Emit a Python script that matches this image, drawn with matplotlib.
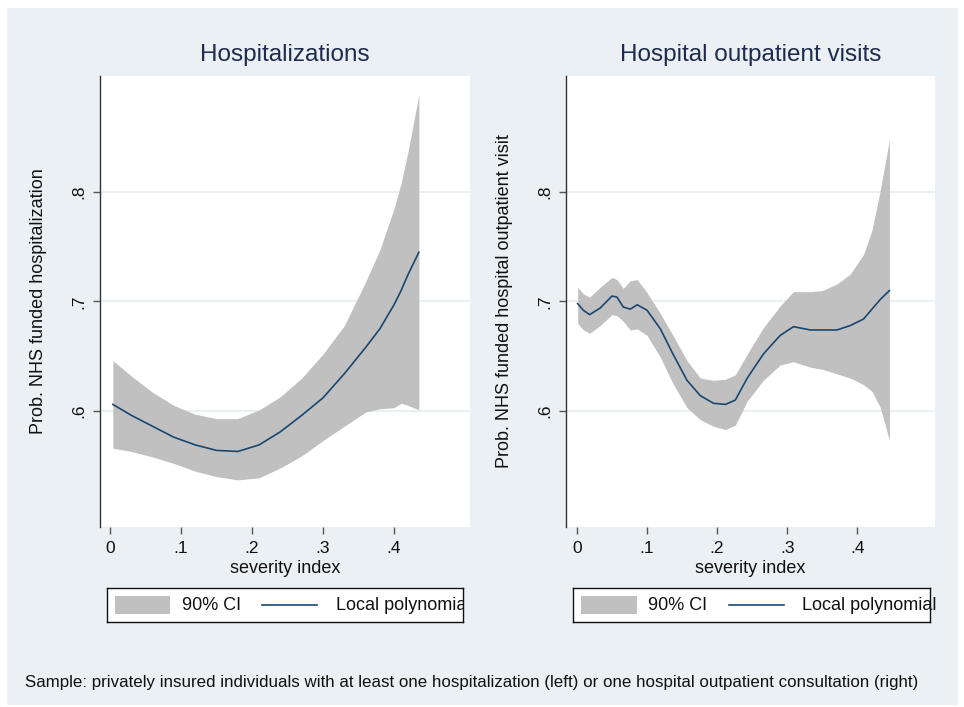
import matplotlib
matplotlib.use('Agg')
import matplotlib.pyplot as plt
from matplotlib.patches import Rectangle
from matplotlib.lines import Line2D

plt.rcParams['font.family'] = ['Liberation Sans', 'DejaVu Sans']

# Left panel: hospitalizations (local polynomial + 90% CI)
hosp_x = [0.004, 0.03, 0.06, 0.09, 0.12, 0.15, 0.18, 0.21, 0.24, 0.27, 0.30,
          0.33, 0.36, 0.38, 0.40, 0.41, 0.42, 0.435]
hosp_fit = [0.606, 0.596, 0.586, 0.576, 0.569, 0.564, 0.563, 0.569, 0.581, 0.596,
            0.612, 0.634, 0.658, 0.675, 0.697, 0.710, 0.725, 0.745]
hosp_upper = [0.646, 0.632, 0.617, 0.605, 0.597, 0.593, 0.593, 0.601, 0.613, 0.630,
              0.652, 0.678, 0.718, 0.747, 0.785, 0.808, 0.838, 0.889]
hosp_lower = [0.566, 0.563, 0.558, 0.552, 0.545, 0.540, 0.537, 0.539, 0.548, 0.559,
              0.573, 0.586, 0.599, 0.602, 0.603, 0.607, 0.605, 0.601]

# Right panel: hospital outpatient visits
outp_x = [0.001, 0.009, 0.018, 0.033, 0.050, 0.057, 0.066, 0.076, 0.086, 0.100,
          0.119, 0.137, 0.157, 0.176, 0.195, 0.212, 0.226, 0.243, 0.266, 0.290,
          0.309, 0.333, 0.350, 0.371, 0.390, 0.409, 0.421, 0.433, 0.446]
outp_fit = [0.698, 0.692, 0.688, 0.694, 0.705, 0.704, 0.695, 0.693, 0.697, 0.692,
            0.675, 0.652, 0.628, 0.614, 0.607, 0.606, 0.610, 0.630, 0.652, 0.669,
            0.677, 0.674, 0.674, 0.674, 0.678, 0.684, 0.693, 0.702, 0.710]
outp_upper = [0.713, 0.707, 0.704, 0.713, 0.722, 0.720, 0.712, 0.719, 0.720, 0.708,
              0.689, 0.669, 0.646, 0.630, 0.628, 0.629, 0.633, 0.652, 0.676, 0.696,
              0.709, 0.709, 0.710, 0.716, 0.725, 0.743, 0.765, 0.802, 0.848]
outp_lower = [0.680, 0.674, 0.671, 0.678, 0.688, 0.687, 0.682, 0.674, 0.675, 0.669,
              0.649, 0.625, 0.603, 0.592, 0.586, 0.583, 0.587, 0.609, 0.628, 0.642,
              0.645, 0.640, 0.638, 0.634, 0.630, 0.624, 0.618, 0.603, 0.573]

titles = ['Hospitalizations', 'Hospital outpatient visits']
ylabels = ['Prob. NHS funded hospitalization',
           'Prob. NHS funded hospital outpatient visit']
xticks = [0, 0.1, 0.2, 0.3, 0.4]
xtick_labels = ['0', '.1', '.2', '.3', '.4']
yticks = [0.6, 0.7, 0.8]
ytick_labels = ['.6', '.7', '.8']
legend_labels = ['90% CI', 'Local polynomial']
note = ('Sample: privately insured individuals with at least one hospitalization '
        '(left) or one hospital outpatient consultation (right)')

BG = '#EAF0F3'
CI_COLOR = '#C0C0C0'
LINE_COLOR = '#1A476F'
TITLE_COLOR = '#1E2B4E'
TEXT_COLOR = '#111111'

W, H = 964, 707
fig = plt.figure(figsize=(W / 100, H / 100), dpi=100)
fig.patch.set_facecolor('white')

# light graph region behind everything
fig.patches.append(Rectangle((7 / W, 2 / H), 951 / W, 697 / H,
                             transform=fig.transFigure, facecolor=BG,
                             edgecolor='none', zorder=-10))


def px_box(x0, x1, y0, y1):
    """Convert pixel box (top-left origin) to figure fraction rect."""
    return [x0 / W, 1 - y1 / H, (x1 - x0) / W, (y1 - y0) / H]


panels = [
    (hosp_x, hosp_fit, hosp_upper, hosp_lower, px_box(100, 470, 76, 527),
     (-0.0141, 0.507), px_box(107, 463, 588, 622)),
    (outp_x, outp_fit, outp_upper, outp_lower, px_box(566, 935, 76, 527),
     (-0.0157, 0.511), px_box(573, 930, 588, 622)),
]

for i, (x, fit, upper, lower, rect, xlim, leg_rect) in enumerate(panels):
    ax = fig.add_axes(rect)
    ax.set_facecolor('white')
    ax.fill_between(x, lower, upper, color=CI_COLOR, linewidth=0, zorder=2)
    ax.plot(x, fit, color=LINE_COLOR, linewidth=1.2, zorder=3)

    ax.set_xlim(*xlim)
    ax.set_ylim(0.494, 0.906)
    ax.set_xticks(xticks)
    ax.set_xticklabels(xtick_labels)
    ax.set_yticks(yticks)
    ax.set_yticklabels(ytick_labels, rotation=90, va='center')

    ax.grid(axis='y', color='#E6EEF1', linewidth=1.2, zorder=1)
    ax.set_axisbelow(True)
    for side in ['top', 'right', 'bottom']:
        ax.spines[side].set_visible(False)
    ax.spines['left'].set_color('#333333')
    ax.spines['left'].set_linewidth(1.0)
    ax.tick_params(axis='both', colors='#555555', labelcolor=TEXT_COLOR,
                   labelsize=12.5, length=5, width=1, pad=5)

    ax.set_xlabel('severity index', fontsize=13, color=TEXT_COLOR, labelpad=3)
    ax.set_ylabel(ylabels[i], fontsize=13, color=TEXT_COLOR)
    ax.yaxis.set_label_coords(-0.143, 0.5)
    ax.text(0.5, 1 + 21 / 451, titles[i], transform=ax.transAxes,
            ha='center', va='center', fontsize=17.5, color=TITLE_COLOR)

    # legend box drawn by hand to mimic the Stata layout
    lg = fig.add_axes(leg_rect)
    lg.set_xlim(0, 1)
    lg.set_ylim(0, 1)
    lg.set_xticks([])
    lg.set_yticks([])
    lg.set_facecolor('white')
    for s in lg.spines.values():
        s.set_color('#111111')
        s.set_linewidth(1.0)
    lg.add_patch(Rectangle((0.022, 0.235), 0.156, 0.53, facecolor=CI_COLOR,
                           edgecolor='none'))
    lg.text(0.21, 0.5, legend_labels[0], fontsize=13, va='center',
            color=TEXT_COLOR)
    lg.add_line(Line2D([0.436, 0.59], [0.5, 0.5], color=LINE_COLOR,
                       linewidth=1.2))
    lg.text(0.642, 0.5, legend_labels[1], fontsize=13, va='center',
            color=TEXT_COLOR, clip_on=(i == 0))

fig.text(25 / W, 1 - 683 / H, note, fontsize=12.2, va='center', color=TEXT_COLOR)

fig.savefig('out.png', dpi=100, facecolor=fig.get_facecolor())
